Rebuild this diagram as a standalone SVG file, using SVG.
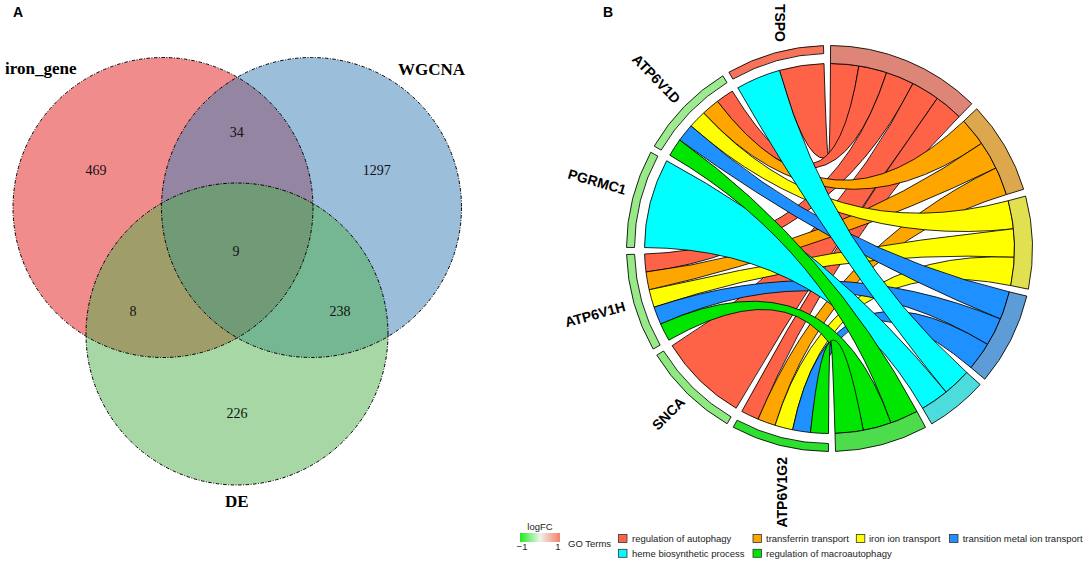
<svg xmlns="http://www.w3.org/2000/svg" width="1084" height="561" viewBox="0 0 1084 561">
<defs>
<style>
.rib{stroke:#000;stroke-width:0.85;stroke-linejoin:round}
.blk{stroke:#000;stroke-width:0.85}
.gl{font-family:"Liberation Sans",Arial,sans-serif;font-weight:bold;font-size:14px;fill:#000;text-anchor:end}
.vn{font-family:"Liberation Serif","Times New Roman",serif;font-size:14px;fill:#111;text-anchor:middle}
.vt{font-family:"Liberation Serif","Times New Roman",serif;font-weight:bold;font-size:17px;fill:#000}
.pl{font-family:"Liberation Sans",Arial,sans-serif;font-weight:bold;font-size:14px;fill:#000}
.lg{font-family:"Liberation Sans",Arial,sans-serif;font-size:9.5px;fill:#222}
.vc{fill-opacity:0.5}
.vb{fill:none;stroke:#000;stroke-width:1;stroke-dasharray:3.5 1.5 1 1.5}
.key{stroke:#333;stroke-width:0.8}
.s1{fill:#FF6347}.s2{fill:#FFA500}.s3{fill:#FFFF00}.s4{fill:#1E90FF}.s5{fill:#00FFFF}.s6{fill:#00E600}
</style>
<linearGradient id="lfc" x1="0" y1="0" x2="1" y2="0">
<stop offset="0" stop-color="#1EEB1E"/>
<stop offset="0.5" stop-color="#EFF3EA"/>
<stop offset="1" stop-color="#F4806C"/>
</linearGradient>
</defs>
<rect width="1084" height="561" fill="#fff"/>

<!-- Panel A: Venn -->
<text class="pl" x="13" y="17">A</text>
<g id="venn">
<g id="set-iron_gene"><circle class="vc" cx="163" cy="207.5" r="150" fill="#E41A1C"/><text class="vt" x="5" y="74">iron_gene</text></g>
<g id="set-WGCNA"><circle class="vc" cx="311.5" cy="207.5" r="150" fill="#377EB8"/><text class="vt" x="398" y="74.5">WGCNA</text></g>
<g id="set-DE"><circle class="vc" cx="237" cy="334" r="151" fill="#4DAF4A"/><text class="vt" x="236.7" y="506.5" text-anchor="middle">DE</text></g>
<g id="venn-borders">
<circle class="vb" cx="163" cy="207.5" r="150"/>
<circle class="vb" cx="311.5" cy="207.5" r="150"/>
<circle class="vb" cx="237" cy="334" r="151"/>
</g>
<g id="venn-counts">
<text class="vn" x="96" y="175">469</text>
<text class="vn" x="236.7" y="137">34</text>
<text class="vn" x="376.7" y="175">1297</text>
<text class="vn" x="236" y="256">9</text>
<text class="vn" x="133" y="316">8</text>
<text class="vn" x="340" y="316">238</text>
<text class="vn" x="237" y="418">226</text>
</g>
</g>

<!-- Panel B: GO chord -->
<text class="pl" x="603" y="17">B</text>
<g id="chord" transform="translate(829.5,248.5)">
<g id="connectors">
<path class="rib s1" d="M-50.06 -178.10A185 185 0 0 1 -5.49 -184.92Q0 0 0.97 -185.0A185 185 0 0 1 29.39 -182.65Q0 0 -50.06 -178.10Z"/>
<path class="rib s1" d="M-112.11 -147.17A185 185 0 0 1 -97.21 -157.40Q0 0 29.39 -182.65A185 185 0 0 1 57.11 -175.97Q0 0 -112.11 -147.17Z"/>
<path class="rib s1" d="M-183.50 23.51A185 185 0 0 1 -184.92 5.49Q0 0 57.11 -175.97A185 185 0 0 1 83.50 -165.09Q0 0 -183.50 23.51Z"/>
<path class="rib s1" d="M-93.34 159.73A185 185 0 0 1 -157.40 97.21Q0 0 83.50 -165.09A185 185 0 0 1 107.88 -150.30Q0 0 -93.34 159.73Z"/>
<path class="rib s1" d="M-71.39 170.67A185 185 0 0 1 -87.71 162.89Q0 0 107.88 -150.30A185 185 0 0 1 129.70 -131.93Q0 0 -71.39 170.67Z"/>
<path class="rib s2" d="M-125.93 -135.52A185 185 0 0 1 -112.11 -147.17Q0 0 134.22 -127.32A185 185 0 0 1 152.19 -105.19Q0 0 -125.93 -135.52Z"/>
<path class="rib s2" d="M-180.33 41.30A185 185 0 0 1 -183.50 23.51Q0 0 152.19 -105.19A185 185 0 0 1 166.54 -80.55Q0 0 -180.33 41.30Z"/>
<path class="rib s2" d="M-54.40 176.82A185 185 0 0 1 -71.39 170.67Q0 0 166.54 -80.55A185 185 0 0 1 176.95 -53.96Q0 0 -54.40 176.82Z"/>
<path class="rib s3" d="M-138.56 -122.58A185 185 0 0 1 -125.93 -135.52Q0 0 178.73 -47.76A185 185 0 0 1 183.95 -19.72Q0 0 -138.56 -122.58Z"/>
<path class="rib s3" d="M-175.44 58.70A185 185 0 0 1 -180.33 41.30Q0 0 183.95 -19.72A185 185 0 0 1 184.79 8.78Q0 0 -175.44 58.70Z"/>
<path class="rib s3" d="M-36.88 181.29A185 185 0 0 1 -54.40 176.82Q0 0 184.79 8.78A185 185 0 0 1 181.25 37.07Q0 0 -36.88 181.29Z"/>
<path class="rib s4" d="M-149.86 -108.48A185 185 0 0 1 -138.56 -122.58Q0 0 179.84 43.38A185 185 0 0 1 171.04 70.50Q0 0 -149.86 -108.48Z"/>
<path class="rib s4" d="M-168.88 75.54A185 185 0 0 1 -175.44 58.70Q0 0 171.04 70.50A185 185 0 0 1 158.16 95.97Q0 0 -168.88 75.54Z"/>
<path class="rib s4" d="M-19.02 184.02A185 185 0 0 1 -36.88 181.29Q0 0 158.16 95.97A185 185 0 0 1 141.53 119.14Q0 0 -19.02 184.02Z"/>
<path class="rib s5" d="M-91.66 -160.70A185 185 0 0 1 -50.06 -178.10Q0 0 137.29 124.01A185 185 0 0 1 116.60 143.63Q0 0 -91.66 -160.70Z"/>
<path class="rib s5" d="M-185.0 -0.97A185 185 0 0 1 -162.89 -87.71Q0 0 116.60 143.63A185 185 0 0 1 93.14 159.84Q0 0 -185.0 -0.97Z"/>
<path class="rib s6" d="M-159.73 -93.34A185 185 0 0 1 -149.86 -108.48Q0 0 87.51 163.00A185 185 0 0 1 61.42 174.51Q0 0 -159.73 -93.34Z"/>
<path class="rib s6" d="M-160.70 91.66A185 185 0 0 1 -168.88 75.54Q0 0 61.42 174.51A185 185 0 0 1 33.84 181.88Q0 0 -160.70 91.66Z"/>
<path class="rib s6" d="M-0.97 185.0A185 185 0 0 1 -19.02 184.02Q0 0 33.84 181.88A185 185 0 0 1 5.49 184.92Q0 0 -0.97 185.0Z"/>
</g>
<g id="term-regulation-of-autophagy"><path class="blk" fill="#DD8577" d="M1.06 -203.0A203 203 0 0 1 142.32 -144.77L129.70 -131.93A185 185 0 0 0 0.97 -185.0Z"/></g>
<g id="term-transferrin-transport"><path class="blk" fill="#DDA84D" d="M147.28 -139.71A203 203 0 0 1 194.17 -59.22L176.95 -53.96A185 185 0 0 0 134.22 -127.32Z"/></g>
<g id="term-iron-ion-transport"><path class="blk" fill="#E0E050" d="M196.12 -52.40A203 203 0 0 1 198.88 40.68L181.25 37.07A185 185 0 0 0 178.73 -47.76Z"/></g>
<g id="term-transition-metal-ion-transport"><path class="blk" fill="#5D9CD6" d="M197.34 47.60A203 203 0 0 1 155.30 130.73L141.53 119.14A185 185 0 0 0 179.84 43.38Z"/></g>
<g id="term-heme-biosynthetic-process"><path class="blk" fill="#4DDCDC" d="M150.64 136.07A203 203 0 0 1 102.21 175.40L93.14 159.84A185 185 0 0 0 137.29 124.01Z"/></g>
<g id="term-regulation-of-macroautophagy"><path class="blk" fill="#4CDC4C" d="M96.02 178.86A203 203 0 0 1 6.02 202.91L5.49 184.92A185 185 0 0 0 87.51 163.00Z"/></g>
<g id="gene-ATP6V1G2"><path class="blk" fill="#2EE02E" d="M-1.06 203.0A203 203 0 0 1 -96.24 178.74L-92.45 171.70A195 195 0 0 0 -1.02 195.0Z"/></g>
<g id="gene-SNCA"><path class="blk" fill="#8EEA7F" d="M-102.42 175.27A203 203 0 0 1 -172.72 106.67L-165.91 102.47A195 195 0 0 0 -98.38 168.36Z"/></g>
<g id="gene-ATP6V1H"><path class="blk" fill="#98EA89" d="M-176.34 100.58A203 203 0 0 1 -202.91 6.02L-194.91 5.79A195 195 0 0 0 -169.39 96.62Z"/></g>
<g id="gene-PGRMC1"><path class="blk" fill="#98EA89" d="M-203.0 -1.06A203 203 0 0 1 -178.74 -96.24L-171.70 -92.45A195 195 0 0 0 -195.0 -1.02Z"/></g>
<g id="gene-ATP6V1D"><path class="blk" fill="#9DEB8F" d="M-175.27 -102.42A203 203 0 0 1 -106.67 -172.71L-102.47 -165.91A195 195 0 0 0 -168.36 -98.38Z"/></g>
<g id="gene-TSPO"><path class="blk" fill="#F7735A" d="M-100.58 -176.34A203 203 0 0 1 -6.02 -202.91L-5.79 -194.91A195 195 0 0 0 -96.62 -169.39Z"/></g>
</g>
<g id="gene-labels">
<text class="gl" transform="translate(775,42) rotate(90)">TSPO</text>
<text class="gl" transform="translate(674.4,104.5) rotate(46)">ATP6V1D</text>
<text class="gl" transform="translate(624.6,194.8) rotate(16)">PGRMC1</text>
<text class="gl" transform="translate(626.3,310.8) rotate(-15.5)">ATP6V1H</text>
<text class="gl" transform="translate(686,403) rotate(-45)">SNCA</text>
<text class="gl" transform="translate(787,457) rotate(-90)">ATP6V1G2</text>
</g>

<!-- Legend -->
<g id="legend-logFC">
<text class="lg" x="540" y="530" text-anchor="middle">logFC</text>
<rect x="520" y="533" width="40" height="9" fill="url(#lfc)"/>
<text class="lg" x="522" y="550" text-anchor="middle">−1</text>
<text class="lg" x="558" y="550" text-anchor="middle">1</text>
</g>
<g id="legend-GO">
<text class="lg" x="568" y="547">GO Terms</text>
<rect class="key s1" x="618.5" y="534.5" width="8.5" height="8"/>
<text class="lg" x="632" y="542">regulation of autophagy</text>
<rect class="key s2" x="753" y="534.5" width="8.5" height="8"/>
<text class="lg" x="766" y="542">transferrin transport</text>
<rect class="key s3" x="856.3" y="534.5" width="8.5" height="8"/>
<text class="lg" x="869" y="542">iron ion transport</text>
<rect class="key s4" x="949.5" y="534.5" width="8.5" height="8"/>
<text class="lg" x="962.7" y="542">transition metal ion transport</text>
<rect class="key s5" x="618.5" y="549.3" width="8.5" height="8"/>
<text class="lg" x="632" y="556.5">heme biosynthetic process</text>
<rect class="key s6" x="753" y="549.3" width="8.5" height="8"/>
<text class="lg" x="766" y="556.5">regulation of macroautophagy</text>
</g>
</svg>
